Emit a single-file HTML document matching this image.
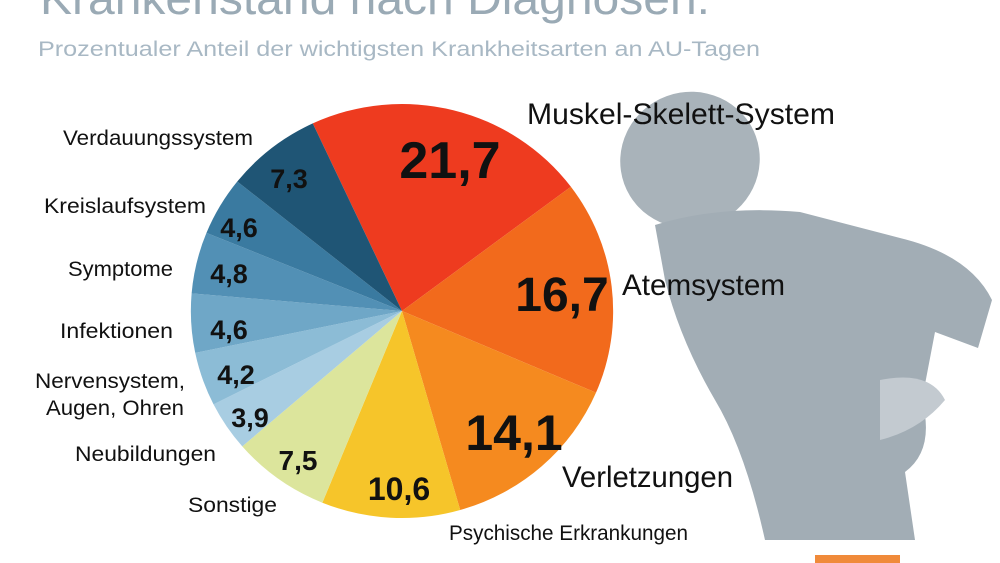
<!DOCTYPE html><html><head><style>
body{margin:0;width:1000px;height:563px;overflow:hidden;background:#fff;font-family:"Liberation Sans",sans-serif}
svg{position:absolute;left:0;top:0}
</style></head><body>
<svg width="1000" height="563" viewBox="0 0 1000 563">
<g>
<ellipse cx="690" cy="160" rx="70" ry="68" fill="#a9b3ba" transform="rotate(-20 690 160)"/>
<path d="M655 225 Q720 205 800 212 L900 238 Q970 255 992 300 L978 348 L935 332 L922 400 Q935 450 905 472 L915 540 L765 540 Q745 450 715 400 Q680 340 665 280 Z" fill="#a2adb5"/>
<path d="M880 380 Q930 370 945 400 Q920 430 880 440 Z" fill="#c3cad0"/>
</g>
<text x="40" y="14" font-size="46" fill="#9aaab5" textLength="670" lengthAdjust="spacingAndGlyphs">Krankenstand nach Diagnosen:</text>
<text x="38" y="56" font-size="21" fill="#a8b8c4" textLength="722" lengthAdjust="spacingAndGlyphs">Prozentualer Anteil der wichtigsten Krankheitsarten an AU-Tagen</text>
<g id="pie" transform="translate(402,311) scale(1.02,1)"></g>
<g font-size="21" fill="#111" lengthAdjust="spacingAndGlyphs">
<text x="63" y="145" textLength="190" lengthAdjust="spacingAndGlyphs">Verdauungssystem</text>
<text x="44" y="213" textLength="162" lengthAdjust="spacingAndGlyphs">Kreislaufsystem</text>
<text x="68" y="276" textLength="105" lengthAdjust="spacingAndGlyphs">Symptome</text>
<text x="60" y="338" textLength="113" lengthAdjust="spacingAndGlyphs">Infektionen</text>
<text x="35" y="388" textLength="150" lengthAdjust="spacingAndGlyphs">Nervensystem,</text>
<text x="46" y="415" textLength="138" lengthAdjust="spacingAndGlyphs">Augen, Ohren</text>
<text x="75" y="461" textLength="141" lengthAdjust="spacingAndGlyphs">Neubildungen</text>
<text x="188" y="512" textLength="89" lengthAdjust="spacingAndGlyphs">Sonstige</text>
<text x="449" y="540" textLength="239" lengthAdjust="spacingAndGlyphs">Psychische Erkrankungen</text>
</g>
<g font-size="30" fill="#111">
<text x="527" y="124" textLength="308" lengthAdjust="spacingAndGlyphs">Muskel-Skelett-System</text>
<text x="622" y="295" textLength="163" lengthAdjust="spacingAndGlyphs">Atemsystem</text>
<text x="562" y="487" textLength="171" lengthAdjust="spacingAndGlyphs">Verletzungen</text>
</g>
<g font-weight="bold" fill="#111" text-anchor="middle">
<text x="450" y="178" font-size="52">21,7</text>
<text x="562" y="311" font-size="48">16,7</text>
<text x="514" y="450" font-size="50">14,1</text>
<text x="399" y="500" font-size="32">10,6</text>
<text x="298" y="470" font-size="28">7,5</text>
<text x="250" y="427" font-size="27">3,9</text>
<text x="236" y="384" font-size="27">4,2</text>
<text x="229" y="339" font-size="27">4,6</text>
<text x="229" y="283" font-size="27">4,8</text>
<text x="239" y="237" font-size="27">4,6</text>
<text x="289" y="188" font-size="27">7,3</text>
</g>
<rect x="815" y="555" width="85" height="8" fill="#f08a3a"/>
</svg>
<script>
var d=[[21.7,"#ee3b1f"],[16.7,"#f26a1c"],[14.1,"#f58a1f"],[10.6,"#f6c52a"],[7.5,"#dce59c"],[3.9,"#a8cde2"],[4.2,"#8cbcd6"],[4.6,"#6fa7c7"],[4.8,"#5290b5"],[4.6,"#3a7aa0"],[7.3,"#1f5575"]];
var g=document.getElementById("pie"),a=-25,r=207,s="";
d.forEach(function(x){var b=a+x[0]*3.6,p=function(t){t=t*Math.PI/180;return (r*Math.sin(t)).toFixed(2)+" "+(-r*Math.cos(t)).toFixed(2)};
s+='<path d="M0 0 L'+p(a)+' A'+r+' '+r+' 0 '+(b-a>180?1:0)+' 1 '+p(b)+' Z" fill="'+x[1]+'"/>';a=b;});
g.innerHTML=s;
</script>
</body></html>
